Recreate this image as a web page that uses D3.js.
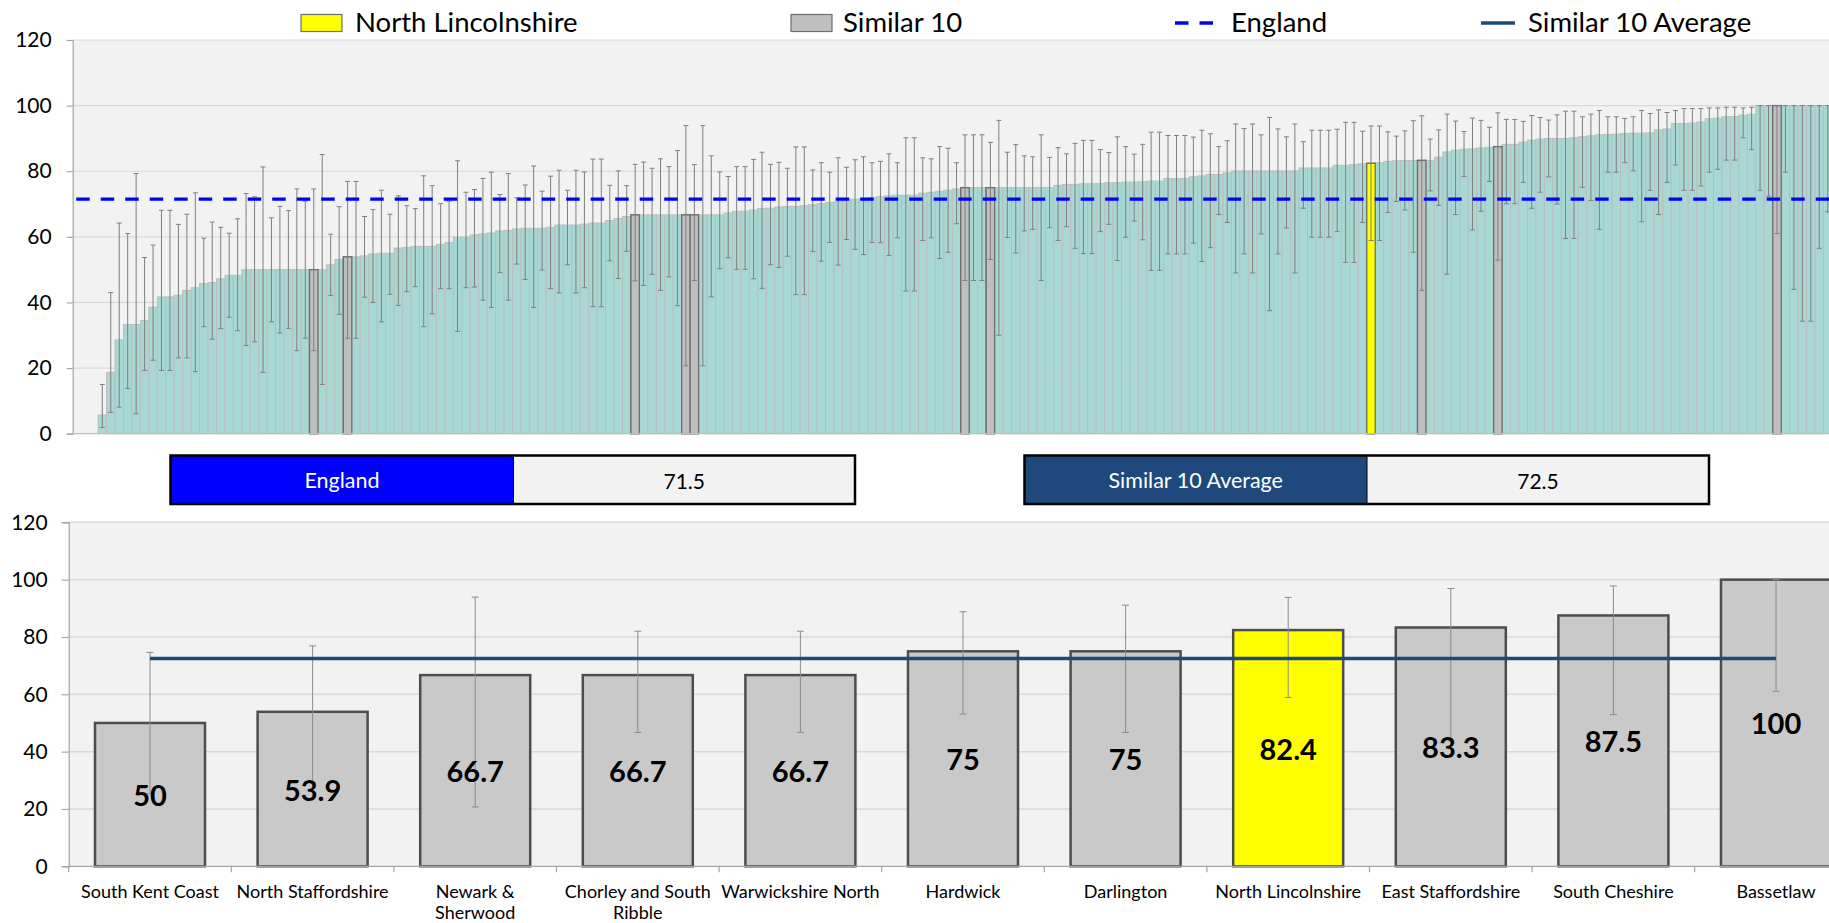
<!DOCTYPE html>
<html><head><meta charset="utf-8">
<script src="https://cdn.jsdelivr.net/npm/d3@7"></script>
<style>html,body{margin:0;padding:0;background:#fff;overflow:hidden}svg{display:block;font-family:Lato,"Open Sans",sans-serif}</style>
</head><body><svg id="c" width="1829" height="923"></svg>
<script>
// ---------- DATA ----------
const topValues = [5.7,18.7,28.6,33.3,33.3,34.5,38.6,41.7,41.7,42.2,43.7,44.5,45.8,46.1,47.2,48.3,48.3,50,50,50,50,50,50,50,50,50,50,51.5,53.1,53.9,53.9,
54.2,54.8,55.0,55.0,56.6,56.8,57.1,57.1,57.1,57.7,58.3,59.9,59.9,60.6,60.9,61.2,61.8,62.0,62.4,62.6,62.6,62.6,62.9,63.6,63.6,63.6,63.9,64.2,64.2,65.0,65.6,66.2,66.7,66.7,66.7,
66.7,66.7,66.7,66.7,66.7,66.7,66.7,66.7,67.3,67.8,67.8,68.2,68.7,68.7,69.1,69.3,69.3,69.5,69.8,70.1,70.5,70.8,71.3,71.5,71.7,71.9,72.3,72.5,72.7,72.7,72.7,73.3,73.6,73.9,74.2,
74.6,75,75,75,75,75,75,75,75,75,75,75,75.7,76.0,76.0,76.2,76.2,76.3,76.5,76.5,76.7,76.7,76.8,77.0,77.0,77.8,77.8,77.8,78.3,78.6,79.0,79.0,79.5,80.1,
80.1,80.1,80.1,80.1,80.1,80.1,80.1,81.0,81.0,81.0,81.0,81.8,81.8,82.0,82.3,82.4,82.6,83.0,83.2,83.3,83.3,83.3,83.3,84.3,85.9,86.4,86.7,86.8,87.1,87.3,87.5,88.2,88.2,88.9,89.5,
89.8,90.0,90.0,90.0,90.2,90.5,90.8,91.1,91.2,91.3,91.5,91.6,91.6,91.7,92.6,92.9,94.5,94.5,94.7,95.0,96.0,96.2,96.7,96.7,97.1,97.4,100,100,100,100,100,100,100,100,100];
const topUpper = [15.0,43.0,64.2,61.0,79.3,53.7,57.5,68.1,68.1,63.8,66.9,73.4,59.6,64.5,62.9,61.1,65.5,73.2,72.2,81.3,65.8,69.3,68.0,74.6,70.9,74.6,85.1,60.8,69.2,76.9,76.9,
66.2,68.3,74.2,66.9,72.5,69.5,68.6,78.6,75.6,70.1,70.9,83.2,73.6,74.4,77.8,79.7,72.9,79.3,71.9,75.8,81.6,73.9,78.5,80.3,74.2,80.3,79.8,83.7,83.7,75.7,80.1,75.6,82.1,82.8,80.9,
83.8,81.4,86.3,93.9,82.0,93.9,84.7,79.8,78.4,81.4,81.4,83.6,85.8,82.1,82.7,80.9,87.4,87.4,80.4,82.6,79.7,84.1,81.2,83.5,84.4,82.6,83.0,85.3,82.6,90.2,90.2,84.1,83.8,87.5,87.0,
82.6,91.1,91.1,91.1,88.8,95.5,85.8,88.1,84.7,84.4,91.1,84.2,87.2,85.3,88.5,89.4,89.4,86.6,85.7,90.5,87.5,85.2,88.2,91.9,91.9,90.9,90.9,90.9,90.4,92.5,91.4,87.5,89.3,94.4,
93.0,94.4,91.1,96.4,92.9,90.5,94.4,89.0,92.5,92.5,92.5,92.8,94.9,94.9,92.2,93.8,93.8,92.0,90.7,92.3,95.4,96.9,89.8,92.6,97.4,95.3,92.1,96.2,95.5,93.4,97.8,95.8,95.8,95.2,97.0,
96.4,95.6,97.2,98.3,98.3,96.6,97.4,98.5,96.6,96.6,96.1,96.6,98.5,97.6,98.7,97.9,98.5,99.1,99.1,99.1,99.3,99.3,99.5,99.5,99.3,99.5,100,100,100,100,100,100,100,100,100];
const topLower = [1.9,6.5,8.1,13.8,6.1,19.3,22.4,19.3,19.3,23.1,23.1,18.9,32.6,28.8,32.0,35.5,31.4,26.9,28.0,18.7,34.1,30.7,32.1,25.3,29.1,25.3,15.0,42.1,36.4,29.1,29.1,
41.6,40.0,34.1,42.5,39.1,43.3,44.8,32.6,36.5,44.2,44.2,31.2,44.5,44.7,40.7,38.5,49.1,40.7,51.7,47.0,38.5,49.9,44.2,42.9,51.5,42.9,44.5,38.7,38.7,52.7,47.3,55.6,46.6,45.2,48.6,
43.7,47.8,39.0,20.7,46.7,20.7,41.7,50.3,53.6,50.1,50.1,47.2,44.3,51.5,50.7,54.1,42.4,42.4,55.5,52.6,58.3,51.4,59.2,56.2,54.6,58.3,58.2,54.3,59.7,43.5,43.5,58.9,59.7,53.4,55.3,
64.0,46.7,46.7,46.7,53.1,30.0,59.8,55.1,61.8,62.3,46.7,62.8,58.9,63.1,56.5,54.9,54.9,61.6,63.8,52.8,59.9,64.8,59.1,49.8,49.8,54.8,54.8,54.8,58.1,52.5,56.7,66.8,64.4,49.0,
54.8,49.0,60.9,37.5,54.8,62.7,49.0,68.7,59.9,59.9,59.9,61.6,52.2,52.2,64.4,58.9,58.9,67.4,70.8,68.2,55.3,43.7,74.0,69.6,48.6,66.8,78.4,62.1,67.8,76.9,52.9,70.1,70.1,76.6,68.7,
73.6,78.3,70.0,59.5,59.5,75.1,71.1,62.3,79.7,79.7,82.6,80.1,64.6,74.2,66.8,76.6,81.9,74.2,74.2,75.5,79.7,80.6,83.4,83.4,90.2,86.6,74.2,72.4,61.0,79.7,44.0,34.3,34.3,56.5,67.6];
const leadingBlanks = 3;      // empty categories before the first bar
const trailingBlanks = 0;

const simNames  = ["South Kent Coast","North Staffordshire","Newark & Sherwood","Chorley and South Ribble","Warwickshire North","Hardwick","Darlington","North Lincolnshire","East Staffordshire","South Cheshire","Bassetlaw"];
const simValues = [50,53.9,66.7,66.7,66.7,75,75,82.4,83.3,87.5,100];
const simUpper  = [74.6,76.9,93.9,82.0,82.0,88.8,91.1,93.8,96.9,97.8,100];
const simLower  = [25.3,29.1,20.7,46.7,46.7,53.1,46.7,58.9,43.7,52.9,61.0];
const simRankInAll = [25,29,69,63,70,105,102,150,156,165,198];
const focusArea = "North Lincolnshire";
const labelLines = {"Newark & Sherwood":["Newark &","Sherwood"],"Chorley and South Ribble":["Chorley and South","Ribble"]};

const englandValue = 71.5;
const similarAverage = 72.5;
const yTicks = [0,20,40,60,80,100,120];
const legendLabels = ["North Lincolnshire","Similar 10","England","Similar 10 Average"];

// ---------- STYLE ----------
const C = {plotBg:"#f2f2f2", grid:"#d9d9d9", axis:"#a6a6a6", teal:"#a7d8d3", tealStroke:"#bcbcbc",
  simFill:"#bfbfbf", simStroke:"#6e6e6e", yellow:"#ffff00", err:"#7f7f7f", england:"#0000ff", avg:"#1f497d",
  botFill:"#c9c9c9", botStroke:"#4d4d4d"};

const svg = d3.select("#c");

// ---------- TOP CHART ----------
const T = {left:72.7, top:40, bottom:433.7, step:8.458};
const nTop = leadingBlanks + topValues.length + trailingBlanks;
const xTop = d3.scaleBand().domain(d3.range(-leadingBlanks, topValues.length + trailingBlanks))
  .range([T.left, T.left + T.step*nTop]).padding(0);
const yTop = d3.scaleLinear().domain([0,120]).range([T.bottom, T.top]);

svg.append("rect").attr("x",T.left).attr("y",T.top).attr("width",1829-T.left).attr("height",T.bottom-T.top).attr("fill",C.plotBg);
const gTop = svg.append("g");
gTop.selectAll("line.grid").data(yTicks.filter(d=>d>0)).join("line")
  .attr("x1",T.left).attr("x2",1829).attr("y1",d=>yTop(d)).attr("y2",d=>yTop(d))
  .attr("stroke",C.grid).attr("stroke-width",1.2);

const simIdx = new Map(simRankInAll.map((r,i)=>[r,simNames[i]]));
const topData = topValues.map((v,i)=>({i, v, u:topUpper[i], l:topLower[i], name:simIdx.get(i)}));
gTop.selectAll("rect.bar").data(topData).join("rect")
  .attr("x",d=>xTop(d.i)).attr("width",xTop.bandwidth())
  .attr("y",d=>yTop(d.v)).attr("height",d=>yTop(0)-yTop(d.v))
  .attr("fill",d=>d.name? (d.name===focusArea?C.yellow:C.simFill) : C.teal)
  .attr("stroke",d=>d.name? C.simStroke : C.tealStroke)
  .attr("stroke-width",d=>d.name?1.3:0.9);
// redraw highlighted bars on top so borders are visible
gTop.selectAll("rect.hi").data(topData.filter(d=>d.name)).join("rect")
  .attr("x",d=>xTop(d.i)).attr("width",xTop.bandwidth())
  .attr("y",d=>yTop(d.v)).attr("height",d=>yTop(0)-yTop(d.v))
  .attr("fill",d=>d.name===focusArea?C.yellow:C.simFill).attr("stroke",C.simStroke).attr("stroke-width",1.3);

const eb = gTop.selectAll("g.eb").data(topData).join("g").attr("stroke",C.err).attr("stroke-width",1);
eb.append("line").attr("x1",d=>xTop(d.i)+xTop.bandwidth()/2).attr("x2",d=>xTop(d.i)+xTop.bandwidth()/2)
  .attr("y1",d=>yTop(d.u)).attr("y2",d=>yTop(d.l));
eb.append("line").attr("x1",d=>xTop(d.i)+xTop.bandwidth()/2-2.5).attr("x2",d=>xTop(d.i)+xTop.bandwidth()/2+2.5)
  .attr("y1",d=>yTop(d.u)).attr("y2",d=>yTop(d.u));
eb.append("line").attr("x1",d=>xTop(d.i)+xTop.bandwidth()/2-2.5).attr("x2",d=>xTop(d.i)+xTop.bandwidth()/2+2.5)
  .attr("y1",d=>yTop(d.l)).attr("y2",d=>yTop(d.l));

// England dashed line
gTop.append("line").attr("x1",T.left+3.5).attr("x2",1829).attr("y1",yTop(englandValue)).attr("y2",yTop(englandValue))
  .attr("stroke",C.england).attr("stroke-width",3.4).attr("stroke-dasharray","13.5,11");

// axes
const axT = svg.append("g").attr("transform",`translate(${T.left},0)`)
  .call(d3.axisLeft(yTop).tickValues(yTicks).tickSize(6).tickPadding(15));
axT.select(".domain").attr("stroke",C.axis).attr("stroke-width",1.2);
axT.selectAll(".tick line").attr("stroke",C.axis).attr("stroke-width",1.2);
axT.selectAll(".tick text").attr("fill","#000").style("font-size","21px").style("font-family","Lato");
svg.append("line").attr("x1",T.left).attr("x2",1829).attr("y1",T.bottom).attr("y2",T.bottom).attr("stroke","#bfbfbf").attr("stroke-width",1.2);

// ---------- LEGEND ----------
const lg = svg.append("g").style("font-size","27.5px").attr("fill","#000");
lg.append("rect").attr("x",301).attr("y",14.5).attr("width",41).attr("height",17).attr("fill",C.yellow).attr("stroke",C.simStroke).attr("stroke-width",1.2);
lg.append("text").attr("x",355).attr("y",32).text(legendLabels[0]);
lg.append("rect").attr("x",791).attr("y",14.5).attr("width",41).attr("height",17).attr("fill",C.simFill).attr("stroke",C.simStroke).attr("stroke-width",1.2);
lg.append("text").attr("x",843).attr("y",32).text(legendLabels[1]);
lg.append("line").attr("x1",1175).attr("x2",1214).attr("y1",23).attr("y2",23).attr("stroke",C.england).attr("stroke-width",3.4).attr("stroke-dasharray","13.5,11");
lg.append("text").attr("x",1231).attr("y",32).text(legendLabels[2]);
lg.append("line").attr("x1",1481).attr("x2",1515).attr("y1",23).attr("y2",23).attr("stroke",C.avg).attr("stroke-width",3.5);
lg.append("text").attr("x",1528).attr("y",32).text(legendLabels[3]);

// ---------- SUMMARY BOXES ----------
function box(x0,x1,x2,label,value,fill){
  const g = svg.append("g");
  g.append("rect").attr("x",x0).attr("y",455.5).attr("width",x1-x0).attr("height",48.5).attr("fill",fill);
  g.append("rect").attr("x",x1).attr("y",455.5).attr("width",x2-x1).attr("height",48.5).attr("fill","#f2f2f2");
  g.append("rect").attr("x",x0).attr("y",455.5).attr("width",x2-x0).attr("height",48.5).attr("fill","none").attr("stroke","#000").attr("stroke-width",2.5);
  g.append("line").attr("x1",x1).attr("x2",x1).attr("y1",455.5).attr("y2",504).attr("stroke","#000").attr("stroke-width",1);
  g.append("text").attr("x",(x0+x1)/2).attr("y",480).attr("text-anchor","middle").attr("dominant-baseline","central")
    .attr("fill","#fff").style("font-size","21.5px").text(label);
  g.append("text").attr("x",(x1+x2)/2).attr("y",480).attr("text-anchor","middle").attr("dominant-baseline","central")
    .attr("fill","#000").style("font-size","21px").text(value);
}
box(170.5,513.5,855,"England",englandValue.toFixed(1),C.england);
box(1024.5,1367,1709,"Similar 10 Average",similarAverage.toFixed(1),C.avg);

// ---------- BOTTOM CHART ----------
const B = {left:68.7, top:522.3, bottom:866.3, step:162.6};
const pad = 0.3235;
const xB = d3.scaleBand().domain(simNames).range([B.left, B.left + B.step*simNames.length]).paddingInner(pad).paddingOuter(pad/2);
const yB = d3.scaleLinear().domain([0,120]).range([B.bottom, B.top]);
svg.append("rect").attr("x",B.left).attr("y",B.top).attr("width",1829-B.left).attr("height",B.bottom-B.top).attr("fill",C.plotBg);
svg.append("g").selectAll("line").data(yTicks.filter(d=>d>0)).join("line")
  .attr("x1",B.left).attr("x2",1829).attr("y1",d=>yB(d)).attr("y2",d=>yB(d)).attr("stroke",C.grid).attr("stroke-width",1.5);

const bData = simNames.map((n,i)=>({n, v:simValues[i], u:simUpper[i], l:simLower[i]}));
const gB = svg.append("g");
gB.selectAll("rect").data(bData).join("rect")
  .attr("x",d=>xB(d.n)).attr("width",xB.bandwidth()).attr("y",d=>yB(d.v)).attr("height",d=>yB(0)-yB(d.v))
  .attr("fill",d=>d.n===focusArea?C.yellow:C.botFill).attr("stroke",C.botStroke).attr("stroke-width",2.5);

const ebB = gB.selectAll("g.eb").data(bData).join("g").attr("stroke","#8c8c8c").attr("stroke-width",1);
const cx = d=>xB(d.n)+xB.bandwidth()/2;
ebB.append("line").attr("x1",cx).attr("x2",cx).attr("y1",d=>yB(d.u)).attr("y2",d=>yB(d.l));
ebB.append("line").attr("x1",d=>cx(d)-3.5).attr("x2",d=>cx(d)+3.5).attr("y1",d=>yB(d.u)).attr("y2",d=>yB(d.u));
ebB.append("line").attr("x1",d=>cx(d)-3.5).attr("x2",d=>cx(d)+3.5).attr("y1",d=>yB(d.l)).attr("y2",d=>yB(d.l));

// average line
gB.append("line").attr("x1",cx(bData[0])).attr("x2",cx(bData[bData.length-1]))
  .attr("y1",yB(similarAverage)).attr("y2",yB(similarAverage)).attr("stroke",C.avg).attr("stroke-width",3.5);

// value labels
gB.selectAll("text.val").data(bData).join("text")
  .attr("x",cx).attr("y",d=>(yB(d.v)+yB(0))/2).attr("text-anchor","middle").attr("dominant-baseline","central")
  .style("font-size","29px").style("font-weight","bold").attr("fill","#000")
  .text(d=>d3.format("~r")(d.v));

// axes
const axB = svg.append("g").attr("transform",`translate(${B.left},0)`)
  .call(d3.axisLeft(yB).tickValues(yTicks).tickSize(7).tickPadding(14));
axB.select(".domain").attr("stroke",C.axis).attr("stroke-width",1.2);
axB.selectAll(".tick line").attr("stroke",C.axis).attr("stroke-width",1.2);
axB.selectAll(".tick text").attr("fill","#000").style("font-size","21px").style("font-family","Lato");
svg.append("line").attr("x1",B.left).attr("x2",1829).attr("y1",B.bottom).attr("y2",B.bottom).attr("stroke",C.axis).attr("stroke-width",1.2);
svg.append("g").selectAll("line").data(d3.range(simNames.length+1)).join("line")
  .attr("x1",i=>B.left+i*xB.step()).attr("x2",i=>B.left+i*xB.step()).attr("y1",B.bottom).attr("y2",B.bottom+6)
  .attr("stroke",C.axis).attr("stroke-width",1.2);

// category labels
const lab = svg.append("g").style("font-size","18px").attr("fill","#000").attr("text-anchor","middle");
bData.forEach(d=>{
  const lines = labelLines[d.n] || [d.n];
  lines.forEach((t,k)=>lab.append("text").attr("x",cx(d)).attr("y",898+k*21).text(t));
});
</script></body></html>
